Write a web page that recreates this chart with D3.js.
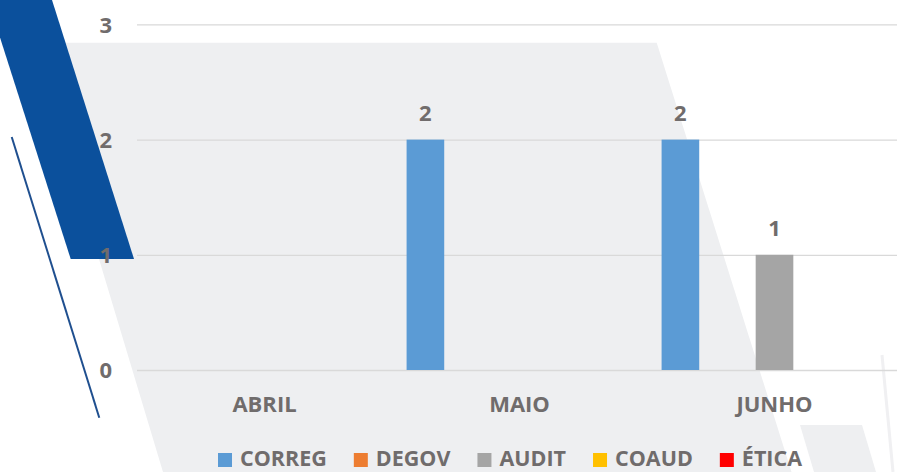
<!DOCTYPE html>
<html>
<head>
<meta charset="utf-8">
<script src="https://cdn.jsdelivr.net/npm/d3@7"></script>
<style>
  body { margin: 0; background: #fff; }
  svg { display: block; }
  text { font-family: 'Open Sans', 'DejaVu Sans Condensed', sans-serif; font-weight: 700; fill: #706c6c; }
</style>
</head>
<body>
<svg id="chart"></svg>
<script>
const MONTHS = ["ABRIL", "MAIO", "JUNHO"];
const SERIES = ["CORREG", "DEGOV", "AUDIT", "COAUD", "ÉTICA"];
const COLORS = ["#5b9bd5", "#ed7d31", "#a5a5a5", "#ffc000", "#ff0000"];

const CORREG = [0, 2, 2];
const DEGOV = [0, 0, 0];
const AUDIT = [0, 0, 1];
const COAUD = [0, 0, 0];
const ETICA = [0, 0, 0];

const Y_TICKS = [0, 1, 2, 3];

// decorative slide background
const GRAY_SHAPE = [[34, 42.7], [656.7, 42.7], [791.5, 472], [163, 472]];
const GRAY_SMALL = [[800, 425], [862, 425], [876, 472], [814, 472]];
const BLUE_SHAPE = [[-12, 0], [52, 0], [134, 259], [70.7, 259]];
const BLUE_LINE = [[11.7, 137], [99.3, 417.7]];
const FAINT_LINE = [[882, 355], [893, 472]];

const WIDTH = 897, HEIGHT = 472;
const margins = { top: 24.4, right: -5, bottom: 102, left: 137 };

const values = [CORREG, DEGOV, AUDIT, COAUD, ETICA];
const rows = [];
SERIES.forEach((s, i) => {
    MONTHS.forEach((m, j) => rows.push({ serie: s, month: m, value: values[i][j], color: COLORS[i] }));
});

const svg = d3.select('#chart')
    .attr('width', WIDTH)
    .attr('height', HEIGHT);

const line = d3.line();

svg.append('path').attr('d', line(GRAY_SHAPE) + 'Z').attr('fill', '#eeeff1');
svg.append('path').attr('d', line(GRAY_SMALL) + 'Z').attr('fill', '#eeeff1');
svg.append('path').attr('d', line(FAINT_LINE)).attr('stroke', '#f0f0f2').attr('stroke-width', 3);

const x0 = d3.scaleBand()
    .domain(MONTHS)
    .range([margins.left, WIDTH - margins.right])
    .padding(0);

const x1 = d3.scaleBand()
    .domain(SERIES)
    .range([0, x0.bandwidth()])
    .paddingInner(0.2)
    .paddingOuter(0.31);

const y = d3.scaleLinear()
    .domain([0, 3])
    .range([HEIGHT - margins.bottom, margins.top]);

// grid + y labels
const yAxis = svg.append('g')
    .attr('transform', 'translate(' + margins.left + ',0)')
    .call(d3.axisLeft(y).tickValues(Y_TICKS).tickSize(-(WIDTH - margins.left)).tickPadding(25).tickFormat(d3.format('d')));
yAxis.select('.domain').remove();
yAxis.selectAll('.tick line').attr('stroke', '#d9d9d9').attr('stroke-width', 1.3);
yAxis.selectAll('.tick text').attr('font-size', 22).attr('font-family', null).attr('fill', null).attr('dy', '0.35em');

svg.append('path').attr('d', line(BLUE_SHAPE) + 'Z').attr('fill', '#0b509c');
svg.append('path').attr('d', line(BLUE_LINE)).attr('stroke', '#1f4f8f').attr('stroke-width', 2);

// put tick labels over the blue band
yAxis.raise();
yAxis.selectAll('.tick line').lower();

// x labels
const xAxis = svg.append('g')
    .attr('transform', 'translate(0,' + y(0) + ')')
    .call(d3.axisBottom(x0).tickSize(0));
xAxis.select('.domain').remove();
xAxis.selectAll('.tick text')
    .attr('font-size', 22).attr('font-family', null).attr('fill', null)
    .attr('dy', null).attr('y', 42);

// bars
const bars = rows.filter(d => d.value > 0);
svg.selectAll('.bar')
    .data(bars)
    .enter()
    .append('rect')
    .attr('class', 'bar')
    .attr('x', d => x0(d.month) + x1(d.serie))
    .attr('y', d => y(d.value))
    .attr('width', x1.bandwidth())
    .attr('height', d => y(0) - y(d.value))
    .attr('fill', d => d.color);

svg.selectAll('.value')
    .data(bars)
    .enter()
    .append('text')
    .attr('class', 'value')
    .text(d => d.value)
    .attr('x', d => x0(d.month) + x1(d.serie) + x1.bandwidth() / 2)
    .attr('y', d => y(d.value) - 18.5)
    .attr('font-size', 22)
    .style('text-anchor', 'middle');

// legend
const legend = svg.append('g').attr('transform', 'translate(0,' + 466 + ')');
const items = legend.selectAll('g')
    .data(SERIES)
    .enter()
    .append('g');
items.append('rect')
    .attr('y', -13)
    .attr('width', 14)
    .attr('height', 14)
    .attr('fill', (d, i) => COLORS[i]);
items.append('text')
    .text(d => d)
    .attr('x', 22)
    .attr('y', 0)
    .attr('font-size', 21.5);

let widths = [];
items.each(function () { widths.push(this.querySelector('text').getComputedTextLength() + 22); });
const gap = 27;
const total = d3.sum(widths) + gap * (widths.length - 1);
let cursor = 510 - total / 2;
items.each(function (d, i) {
    d3.select(this).attr('transform', 'translate(' + cursor + ',0)');
    cursor += widths[i] + gap;
});
</script>
</body>
</html>
